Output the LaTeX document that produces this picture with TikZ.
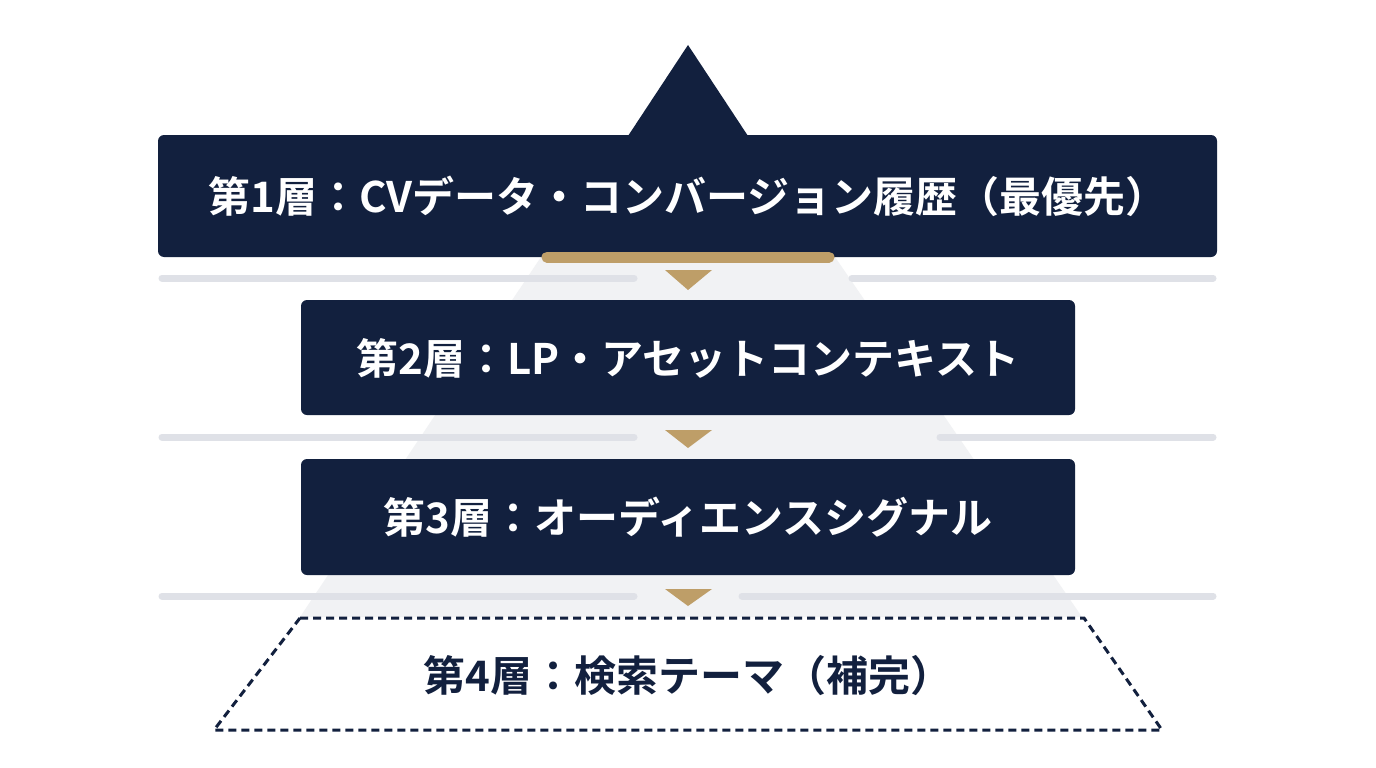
\documentclass[tikz,border=0pt]{standalone}
\usepackage{fontspec}
\newfontfamily\jp{Noto Sans CJK JP Bold}
\definecolor{navy}{HTML}{12203E}
\definecolor{gold}{HTML}{BE9E68}
\definecolor{paleg}{HTML}{F1F2F4}
\definecolor{lineg}{HTML}{DFE1E7}
\begin{document}
\begin{tikzpicture}[x=1pt,y=-1pt,
  layer/.style={fill=navy,rounded corners=6pt,draw=none},
  ltext/.style={text=white,font=\jp\fontsize{42}{46}\selectfont},
  sep/.style={draw=lineg,line width=7pt,line cap=round},
  tri/.style={fill=gold,draw=none}]
\useasboundingbox (0,0) rectangle (1376,768);
\fill[white] (0,0) rectangle (1376,768);
% pale pyramid
\fill[paleg] (541,257) -- (835,257) -- (1082,617) -- (300,617) -- cycle;
% separator lines
\draw[sep] (162,278) -- (634,278); \draw[sep] (852,278) -- (1213,278);
\draw[sep] (162,437) -- (634,437); \draw[sep] (940,437) -- (1213,437);
\draw[sep] (162,596) -- (634,596); \draw[sep] (742,596) -- (1213,596);
% apex
\fill[navy] (688,45) -- (748,136) -- (628,136) -- cycle;
% boxes
\fill[layer] (158,135) rectangle (1217,257);
\node[ltext] (l1) at (688,196) {第1層：CVデータ・コンバージョン履歴（最優先）};
\fill[layer] (301,300) rectangle (1075,415);
\node[ltext] (l2) at (688,358) {第2層：LP・アセットコンテキスト};
\fill[layer] (301,459) rectangle (1075,575);
\node[ltext] (l3) at (688,517) {第3層：オーディエンスシグナル};
% gold bar
\draw[gold,line width=11pt,line cap=round] (547,257) -- (829,257);
% arrows
\fill[tri] (665,270) -- (712,270) -- (688,290) -- cycle;
\fill[tri] (665,430) -- (712,430) -- (688,448) -- cycle;
\fill[tri] (665,589) -- (712,589) -- (688,606) -- cycle;
% layer 4
\draw[navy,line width=3pt,dash pattern=on 8pt off 5pt,fill=white] (300,618) -- (1084,618) -- (1162,730) -- (214,730) -- cycle;
\node[text=navy,font=\jp\fontsize{42}{46}\selectfont] (l4) at (688,676) {第4層：検索テーマ（補完）};
\end{tikzpicture}
\end{document}
